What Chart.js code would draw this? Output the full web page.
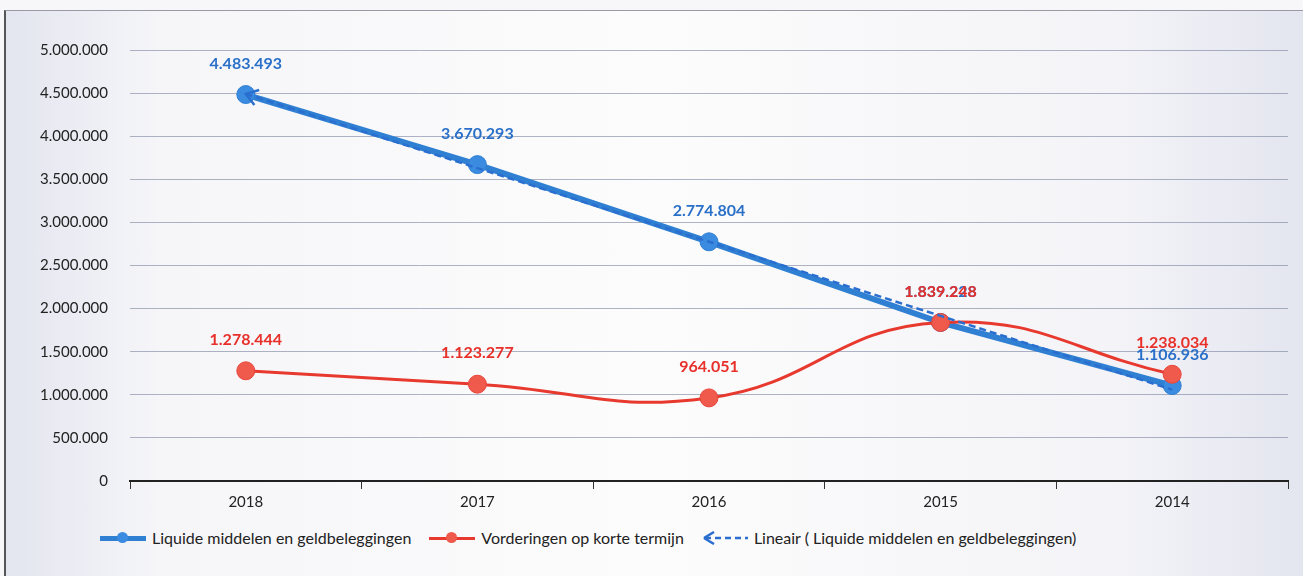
<!DOCTYPE html>
<html>
<head>
<meta charset="utf-8">
<script src="https://cdn.jsdelivr.net/npm/chart.js@4"></script>
<style>
  body { margin: 0; background: #f7f7fa; font-family: Lato, "Open Sans", sans-serif; }
  #frame {
    position: absolute; left: 4px; top: 10px; width: 1299px; height: 566px;
    border-left: 2px solid #555; border-top: 1px solid #9a9aa6;
    background: linear-gradient(to right, #e3e5ef 0%, #f6f6f9 12%, #fcfcfc 50%, #f4f4f8 85%, #e3e5ef 100%);
  }
  #wrap { position: absolute; left: 0; top: 0; width: 1303px; height: 515px; }
  #legend {
    position: absolute; top: 528px; left: 100px; display: flex; gap: 18px;
    font-size: 16px; color: #222; align-items: center;
  }
  .item { display: flex; align-items: center; gap: 6px; }
  .sw { position: relative; width: 46px; height: 12px; }
  .sw .ln { position: absolute; left: 0; right: 0; top: 4px; height: 5px; }
  .sw .pt { position: absolute; left: 17px; top: 0; width: 11px; height: 11px; border-radius: 50%; }
</style>
</head>
<body>
<div id="frame"></div>
<div id="wrap"><canvas id="chart"></canvas></div>
<div id="legend">
  <div class="item"><div class="sw"><div class="ln" style="background:#2f7fd2"></div><div class="pt" style="background:#3b8be0"></div></div>Liquide middelen en geldbeleggingen</div>
  <div class="item"><div class="sw"><div class="ln" style="background:#e8392f;height:3px;top:5px"></div><div class="pt" style="background:#ef5a4c"></div></div>Vorderingen op korte termijn</div>
  <div class="item"><svg width="46" height="14"><path d="M2 7 L12 1 M2 7 L12 13" stroke="#2a6fd0" stroke-width="2.5" fill="none"/><line x1="3" y1="7" x2="46" y2="7" stroke="#2a6fd0" stroke-width="2.5" stroke-dasharray="6,4"/></svg>Lineair ( Liquide middelen en geldbeleggingen)</div>
</div>
<script>
const years = ["2018", "2017", "2016", "2015", "2014"];
const liquide = [4483493, 3670293, 2774804, 1839228, 1106936];
const vorderingen = [1278444, 1123277, 964051, 1839248, 1238034];
const trend = [4490000, 3630000, 2775000, 1915000, 1060000];
const yTicks = [0, 500000, 1000000, 1500000, 2000000, 2500000, 3000000, 3500000, 4000000, 4500000, 5000000];

function fmt(v) {
  return String(Math.round(v)).replace(/\B(?=(\d{3})+(?!\d))/g, ".");
}

const labelPlugin = {
  id: "labels",
  afterDatasetsDraw(chart) {
    const ctx = chart.ctx;
    const sets = chart.data.datasets.map((ds, i) => [ds, i]).reverse();
    sets.forEach(([ds, i]) => {
      const meta = chart.getDatasetMeta(i);
      if (ds.arrow && meta.data.length) {
        const p0 = meta.data[0], p1 = meta.data[1];
        const a = Math.atan2(p1.y - p0.y, p1.x - p0.x);
        ctx.save();
        ctx.strokeStyle = ds.borderColor;
        ctx.lineWidth = 2.5;
        ctx.beginPath();
        ctx.moveTo(p0.x + 14 * Math.cos(a - 0.6), p0.y + 14 * Math.sin(a - 0.6));
        ctx.lineTo(p0.x, p0.y);
        ctx.lineTo(p0.x + 14 * Math.cos(a + 0.6), p0.y + 14 * Math.sin(a + 0.6));
        ctx.stroke();
        ctx.restore();
      }
      if (!ds.labelColor) return;
      ctx.save();
      ctx.font = "bold 16px Lato, 'Open Sans', sans-serif";
      ctx.fillStyle = ds.labelColor;
      ctx.textAlign = "center";
      ctx.textBaseline = "middle";
      meta.data.forEach((pt, j) => {
        ctx.fillText(fmt(ds.data[j]), pt.x, pt.y - 31);
      });
      ctx.restore();
    });
  }
};

new Chart(document.getElementById("chart"), {
  type: "line",
  data: {
    labels: years,
    datasets: [
      {
        label: "Vorderingen op korte termijn",
        data: vorderingen,
        borderColor: "#e8392f",
        backgroundColor: "#ef5a4c",
        borderWidth: 3,
        tension: 0.45,
        pointRadius: 9,
        pointBorderColor: "#e8453a",
        pointBorderWidth: 1,
        labelColor: "#e8302a",
        order: 1
      },
      {
        label: "Lineair ( Liquide middelen en geldbeleggingen)",
        data: trend,
        borderColor: "#2a6fd0",
        borderWidth: 2.5,
        borderDash: [7, 4],
        pointRadius: 0,
        arrow: true,
        order: 0
      },
      {
        label: "Liquide middelen en geldbeleggingen",
        data: liquide,
        borderColor: "#2f7fd2",
        backgroundColor: "#3b8be0",
        borderWidth: 6,
        tension: 0,
        pointRadius: 9,
        pointBorderColor: "#2f7fd2",
        pointBorderWidth: 1,
        labelColor: "#2a70c8",
        order: 2
      }
    ]
  },
  options: {
    responsive: true,
    maintainAspectRatio: false,
    animation: false,
    layout: { padding: { top: 50, right: 15, left: 0, bottom: 0 } },
    plugins: {
      legend: { display: false },
      tooltip: { enabled: false }
    },
    scales: {
      x: {
        offset: true,
        border: { color: "#222", width: 2 },
        grid: { drawOnChartArea: false, drawTicks: true, tickLength: 8, color: "#333", offset: true },
        ticks: { color: "#222", font: { size: 15, family: "Lato, 'Open Sans', sans-serif" }, padding: 4 }
      },
      y: {
        min: 0,
        max: 5000000,
        afterBuildTicks(scale) { scale.ticks = yTicks.map(v => ({ value: v })); },
        afterFit(scale) { scale.width = 130; },
        border: { display: false },
        grid: { color: "rgba(110,120,150,0.55)", lineWidth: 1, drawTicks: false },
        ticks: {
          color: "#222",
          padding: 22,
          font: { size: 15, family: "Lato, 'Open Sans', sans-serif" },
          callback: v => fmt(v)
        }
      }
    }
  },
  plugins: [labelPlugin]
});
</script>
</body>
</html>
